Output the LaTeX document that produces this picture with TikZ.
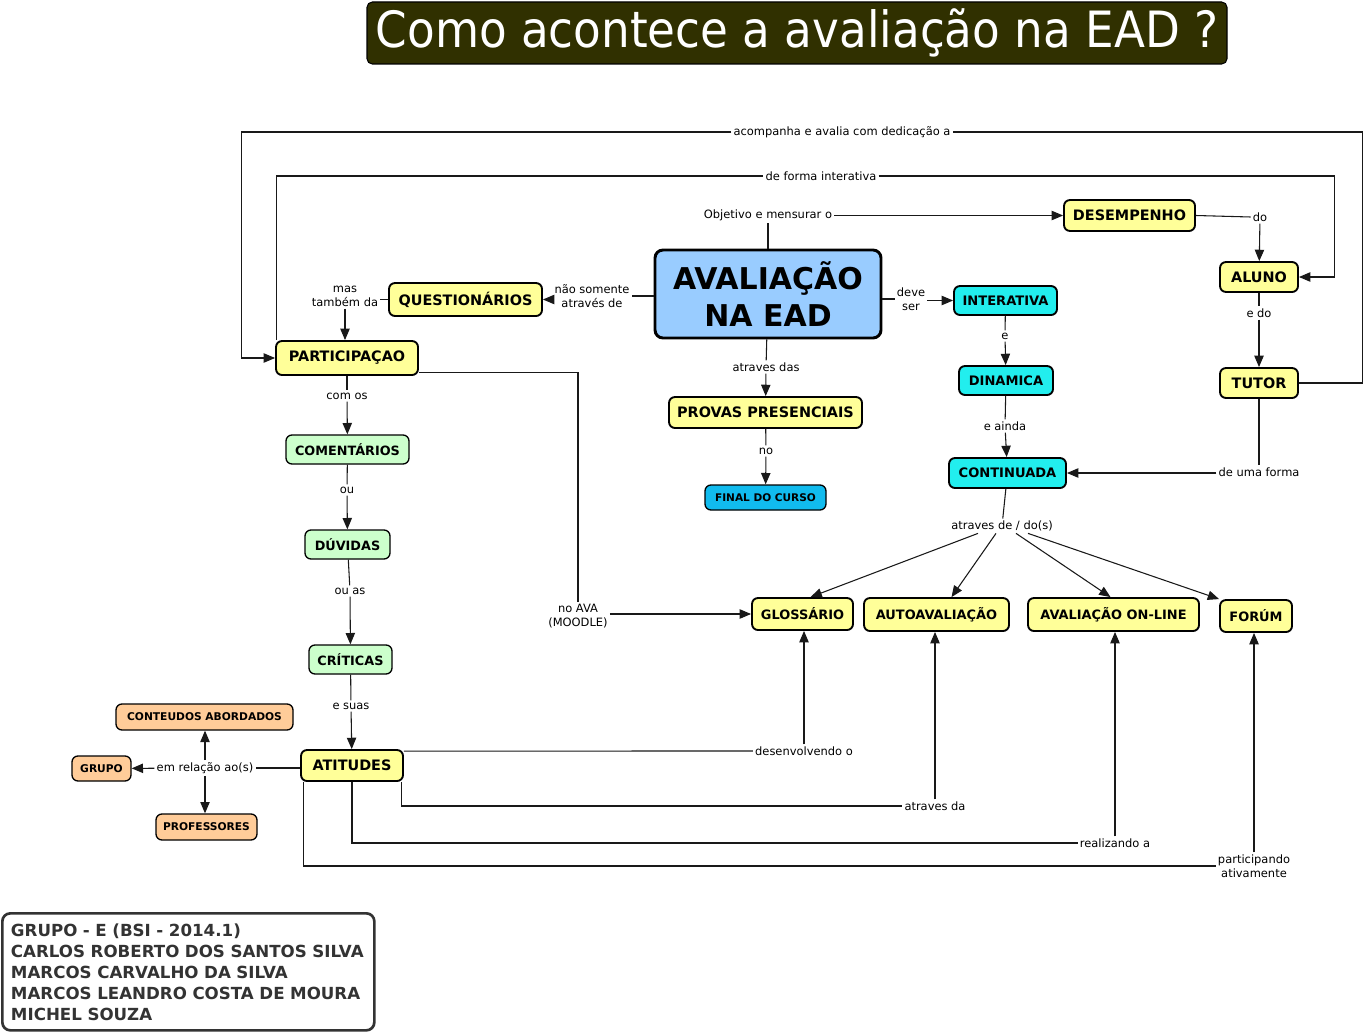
\documentclass[tikz,border=0pt]{standalone}
\usepackage{fontspec}
\setmainfont{DejaVu Sans}
\newfontfamily\titlefont[FakeStretch=0.905]{DejaVu Sans}
\usetikzlibrary{arrows.meta,calc}
\definecolor{yelc}{HTML}{FFFF99}
\definecolor{mainc}{HTML}{99CCFF}
\definecolor{cyanc}{HTML}{22EEEE}
\definecolor{bluec}{HTML}{11BBEE}
\definecolor{grnc}{HTML}{CCFFCC}
\definecolor{orgc}{HTML}{FFCC99}
\definecolor{titlec}{HTML}{303000}
\definecolor{teamc}{HTML}{333333}
\tikzset{
  sz/.style 2 args={minimum width=#1*0.75pt, minimum height=#2*0.75pt},
  nd/.style={draw=black, line width=1.4pt, rounded corners=4.5pt, inner sep=0pt, align=center},
  yelbox/.style={nd, fill=yelc, font=\bfseries\fontsize{10.8}{13}\selectfont},
  yelsm/.style={nd, fill=yelc, font=\bfseries\fontsize{9.7}{12}\selectfont},
  mainbox/.style={nd, line width=2.2pt, rounded corners=6pt, fill=mainc, font=\bfseries\fontsize{22.5}{27.5}\selectfont},
  cyanbox/.style={nd, fill=cyanc, font=\bfseries\fontsize{9.8}{12}\selectfont},
  bluebox/.style={nd, line width=1pt, fill=bluec, font=\bfseries\fontsize{7.9}{10}\selectfont},
  grnbox/.style={nd, line width=1pt, fill=grnc, font=\bfseries\fontsize{9.6}{12}\selectfont},
  orgbox/.style={nd, line width=1pt, fill=orgc, font=\bfseries\fontsize{8}{10}\selectfont},
  lbl/.style={font=\fontsize{8.6}{10.5}\selectfont, align=center, inner sep=1.5pt},
  conn/.style={draw=black!90, line width=0.8pt},
  arr/.style={conn, -{Triangle[length=8.5pt,width=7pt]}},
}
\begin{document}
\begin{tikzpicture}[x=0.75pt,y=-0.75pt]
\useasboundingbox (0,0) rectangle (1366,1031);

% title
\node[draw=black, line width=0.8pt, rounded corners=4pt, fill=titlec, text=white, sz={860}{62}, inner sep=0pt] (title) at (797,33)
  {\titlefont\fontsize{37.5}{40}\selectfont Como acontece a avaliação na EAD ?};

% team box
\node[draw=teamc, line width=2pt, rounded corners=6pt, fill=white, text=teamc, anchor=north west,
  sz={372}{117}, inner xsep=6.5pt, text width=266pt, align=left,
  font=\bfseries\fontsize{12.5}{15.75}\selectfont] (team) at (1,912)
  {GRUPO - E (BSI - 2014.1)\\CARLOS ROBERTO DOS SANTOS SILVA\\MARCOS CARVALHO DA SILVA\\MARCOS LEANDRO COSTA DE MOURA\\MICHEL SOUZA};

% concepts
\node[yelbox, sz={131}{31}] (desemp) at (1129.5,215.5) {DESEMPENHO};
\node[yelbox, sz={78}{30}] (aluno) at (1259,277) {ALUNO};
\node[yelbox, sz={78}{30}] (tutor) at (1259,383) {TUTOR};
\node[mainbox, sz={226}{88}] (aval) at (768,294) {AVALIAÇÃO\\NA EAD};
\node[cyanbox, sz={103}{29}] (inter) at (1005.5,300.5) {INTERATIVA};
\node[cyanbox, sz={94}{29}] (dinam) at (1006,380.5) {DINAMICA};
\node[cyanbox, sz={117}{30}] (contin) at (1007.5,473) {CONTINUADA};
\node[yelbox, sz={153}{33}] (quest) at (465.5,299.5) {QUESTIONÁRIOS};
\node[yelbox, sz={142}{34}] (partic) at (347,358) {PARTICIPAÇAO};
\node[yelbox, sz={193}{31}] (provas) at (765.5,412.5) {PROVAS PRESENCIAIS};
\node[bluebox, sz={121}{25}] (final) at (765.5,497.5) {FINAL DO CURSO};
\node[grnbox, sz={123}{29}] (coment) at (347.5,449.5) {COMENTÁRIOS};
\node[grnbox, sz={85}{29}] (duv) at (347.5,544.5) {DÚVIDAS};
\node[grnbox, sz={83}{29}] (crit) at (350.5,659.5) {CRÍTICAS};
\node[yelbox, sz={102}{31}] (atit) at (352,765.5) {ATITUDES};
\node[orgbox, sz={177}{26}] (cont) at (204.5,717) {CONTEUDOS ABORDADOS};
\node[orgbox, sz={59}{25}] (grupo) at (101.5,768.5) {GRUPO};
\node[orgbox, sz={101}{26}] (profs) at (206.5,827) {PROFESSORES};
\node[yelsm, sz={101}{32}] (gloss) at (802.5,614) {GLOSSÁRIO};
\node[yelsm, sz={145}{33}] (auto) at (936.5,614.5) {AUTOAVALIAÇÃO};
\node[yelsm, sz={171}{33}] (online) at (1113.5,614.5) {AVALIAÇÃO ON-LINE};
\node[yelsm, sz={72}{32}] (forum) at (1256,616) {FORÚM};

% linking phrases
\node[lbl] (lacomp) at (842,132) {acompanha e avalia com dedicação a};
\node[lbl] (lforma) at (821,176) {de forma interativa};
\node[lbl] (lobj) at (768,215.5) {Objetivo e mensurar o};
\node[lbl] (ldo) at (1260,217) {do};
\node[lbl] (ledo) at (1259,313) {e do};
\node[lbl] (luma) at (1259,472) {de uma forma};
\node[lbl] (ldeve) at (911,299) {deve\\ser};
\node[lbl] (le) at (1005,336) {e};
\node[lbl] (lainda) at (1005,426) {e ainda};
\node[lbl] (latr) at (1002,526) {atraves de / do(s)};
\node[lbl] (lnao) at (592,296) {não somente\\através de};
\node[lbl] (lmas) at (345,296) {mas\\também da};
\node[lbl] (ldas) at (766,367) {atraves das};
\node[lbl] (lno) at (766,451) {no};
\node[lbl] (lcom) at (347,396) {com os};
\node[lbl] (lou) at (347,490) {ou};
\node[lbl] (louas) at (350,591) {ou as};
\node[lbl] (lsuas) at (351,706) {e suas};
\node[lbl] (lava) at (578,616) {no AVA\\(MOODLE)};
\node[lbl] (lrel) at (205,768) {em relação ao(s)};
\node[lbl] (ldes) at (804,751) {desenvolvendo o};
\node[lbl] (lda) at (935,806) {atraves da};
\node[lbl] (lreal) at (1115,843) {realizando a};
\node[lbl] (lpart) at (1254,866) {participando\\ativamente};

% connectors
\draw[conn] (tutor.east) -- ++(64,0) |- (lacomp.east);
\draw[arr] (lacomp.west) -| ($(partic.west)+(-34,0)$) -- (partic.west);
\draw[conn] ($(partic.north west)+(1,0)$) |- (lforma.west);
\draw[arr] (lforma.east) -| ($(aluno.east)+(36,0)$) -- (aluno.east);
\draw[conn] (aval) -- (lobj);
\draw[arr] (lobj) -- (desemp);
\draw[conn] (desemp.east) -- (ldo.west);
\draw[arr] (ldo) -- (aluno);
\draw[conn] (aluno) -- (ledo);
\draw[arr] (ledo) -- (tutor);
\draw[conn] (tutor) -- (luma);
\draw[arr] (luma.west |- contin) -- (contin.east);
\draw[conn] (aval.east |- ldeve) -- (ldeve);
\draw[arr] (ldeve.east |- inter) -- (inter.west);
\draw[conn] (inter) -- (le);
\draw[arr] (le) -- (dinam);
\draw[conn] (dinam) -- (lainda);
\draw[arr] (lainda) -- (contin);
\draw[conn] (contin) -- (latr);
\draw[arr] ($(latr.south)+(-24,0)$) -- ($(gloss.north)+(8,0)$);
\draw[arr] ($(latr.south)+(-6,0)$) -- ($(auto.north)+(15,0)$);
\draw[arr] ($(latr.south)+(14,0)$) -- ($(online.north)+(-3,0)$);
\draw[arr] ($(latr.south)+(26,0)$) -- (forum.north west);
\draw[conn] (aval.west |- lnao) -- (lnao);
\draw[arr] (lnao.west |- quest) -- (quest.east);
\draw[conn] (quest.west) -- (lmas.east |- quest.west);
\draw[arr] (lmas.south) -- (lmas.south |- partic.north);
\draw[conn] (aval) -- (ldas);
\draw[arr] (ldas) -- (provas);
\draw[conn] (provas) -- (lno);
\draw[arr] (lno) -- (final);
\draw[conn] (partic) -- (lcom);
\draw[arr] (lcom) -- (coment);
\draw[conn] (coment) -- (lou);
\draw[arr] (lou) -- (duv);
\draw[conn] (duv) -- (louas);
\draw[arr] (louas) -- (crit);
\draw[conn] (crit) -- (lsuas);
\draw[arr] (lsuas) -- (atit);
\draw[conn] ($(partic.south east)+(0,-3)$) -| (lava.north);
\draw[arr] (lava.east |- gloss.west) -- (gloss.west);
\draw[conn] (atit.west |- lrel) -- (lrel);
\draw[arr] (lrel) -- (grupo);
\draw[arr] (lrel.north) -- (lrel.north |- cont.south);
\draw[arr] (lrel.south) -- (lrel.south |- profs.north);
\draw[conn] ($(atit.north east)+(0,2)$) -- (ldes.west);
\draw[arr] (ldes.north) -- (ldes.north |- gloss.south);
\draw[conn] ($(atit.south east)+(-2,0)$) |- (lda.west);
\draw[arr] (lda.north) -- (lda.north |- auto.south);
\draw[conn] (atit.south) |- (lreal.west);
\draw[arr] (lreal.north) -- (lreal.north |- online.south);
\draw[conn] ($(atit.south west)+(3,0)$) |- (lpart.west);
\draw[arr] (lpart.north) -- (lpart.north |- forum.south);
\end{tikzpicture}
\end{document}
